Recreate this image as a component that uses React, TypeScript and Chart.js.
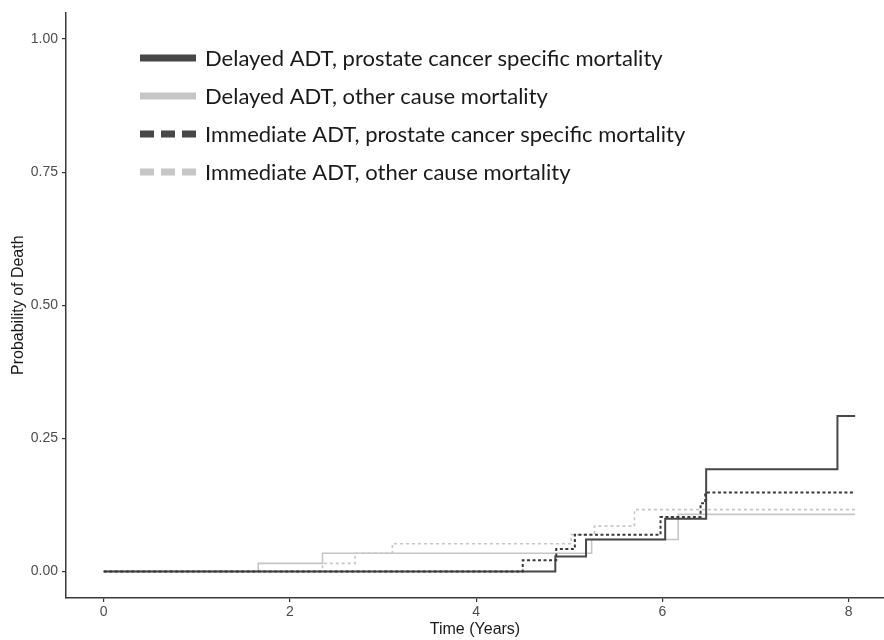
import React, { useEffect, useRef } from "react";
import { Chart, registerables } from "chart.js";

Chart.register(...registerables);

// ---- data ----
const seriesLabels = [
  "Delayed ADT, prostate cancer specific mortality",
  "Delayed ADT, other cause mortality",
  "Immediate ADT, prostate cancer specific mortality",
  "Immediate ADT, other cause mortality",
];

const delayedPcsmTime = [0, 4.85, 5.18, 6.03, 6.47, 7.88, 8.07];
const delayedPcsmProb = [0, 0.028, 0.06, 0.099, 0.192, 0.292, 0.292];

const delayedOcmTime = [0, 1.66, 2.35, 5.24, 6.17, 8.07];
const delayedOcmProb = [0, 0.015, 0.034, 0.06, 0.107, 0.107];

const immediatePcsmTime = [0, 4.5, 4.86, 5.06, 5.98, 6.41, 6.46, 8.07];
const immediatePcsmProb = [0, 0.021, 0.042, 0.069, 0.102, 0.128, 0.148, 0.148];

const immediateOcmTime = [0, 2.35, 2.7, 3.1, 5.02, 5.27, 5.7, 8.07];
const immediateOcmProb = [0, 0.015, 0.034, 0.052, 0.069, 0.085, 0.116, 0.116];

const xTickValues = [0, 2, 4, 6, 8];
const yTickValues = [0, 0.25, 0.5, 0.75, 1.0];

const xTitle = "Time (Years)";
const yTitle = "Probability of Death";

// ---- styles ----
const DARK = "#474747";
const LIGHT = "#c6c6c6";
const AXIS_FONT = "'Liberation Sans', Arial, sans-serif";

const toPoints = (t: number[], p: number[]) => t.map((x, i) => ({ x, y: p[i] }));

const legendPlugin = {
  id: "insideLegend",
  afterDraw(chart: any) {
    const ctx = chart.ctx;
    const ds = chart.data.datasets;
    const x0 = 140;
    const x1 = 196;
    const rowY = [58, 96, 134, 172];
    ctx.save();
    ds.forEach((d: any, i: number) => {
      const y = rowY[i];
      ctx.beginPath();
      ctx.strokeStyle = d.legendColor;
      ctx.lineWidth = 7;
      ctx.lineCap = "butt";
      ctx.setLineDash(d.legendDash);
      ctx.moveTo(x0, y);
      ctx.lineTo(x1, y);
      ctx.stroke();
      ctx.setLineDash([]);
      ctx.fillStyle = "#1a1a1a";
      ctx.font = "22px Lato, 'Open Sans', sans-serif";
      ctx.textAlign = "left";
      ctx.textBaseline = "middle";
      ctx.fillText(d.label, 205, y + 1);
    });
    ctx.restore();
  },
};

export default function App() {
  const ref = useRef<HTMLCanvasElement | null>(null);

  useEffect(() => {
    if (!ref.current) return;
    const chart = new Chart(ref.current, {
      type: "line",
      data: {
        datasets: [
          {
            label: seriesLabels[0],
            data: toPoints(delayedPcsmTime, delayedPcsmProb),
            borderColor: DARK,
            borderWidth: 2,
            stepped: "before",
            pointRadius: 0,
            order: 1,
            legendColor: DARK,
            legendDash: [],
          } as any,
          {
            label: seriesLabels[1],
            data: toPoints(delayedOcmTime, delayedOcmProb),
            borderColor: LIGHT,
            borderWidth: 1.6,
            stepped: "before",
            pointRadius: 0,
            order: 3,
            legendColor: LIGHT,
            legendDash: [],
          } as any,
          {
            label: seriesLabels[2],
            data: toPoints(immediatePcsmTime, immediatePcsmProb),
            borderColor: "#3a3a3a",
            borderWidth: 2,
            borderDash: [3, 2.5],
            stepped: "before",
            pointRadius: 0,
            order: 0,
            legendColor: DARK,
            legendDash: [14, 7],
          } as any,
          {
            label: seriesLabels[3],
            data: toPoints(immediateOcmTime, immediateOcmProb),
            borderColor: LIGHT,
            borderWidth: 1.6,
            borderDash: [3, 3],
            stepped: "before",
            pointRadius: 0,
            order: 2,
            legendColor: LIGHT,
            legendDash: [14, 7],
          } as any,
        ],
      },
      options: {
        animation: false,
        responsive: false,
        maintainAspectRatio: false,
        layout: { padding: { top: 11, right: 0, left: 0, bottom: 0 } },
        plugins: {
          legend: { display: false },
          tooltip: { enabled: false },
        },
        scales: {
          x: {
            type: "linear",
            min: -0.405,
            max: 8.38,
            afterFit: (s: any) => {
              s.height = 42;
            },
            afterBuildTicks: (s: any) => {
              s.ticks = xTickValues.map((v) => ({ value: v }));
            },
            grid: {
              drawOnChartArea: false,
              drawTicks: true,
              tickLength: 4,
              color: "#333",
              lineWidth: 1.2,
            },
            border: { display: true, color: "#3a3a3a", width: 1.5 },
            ticks: {
              color: "#4d4d4d",
              padding: 2,
              maxRotation: 0,
              font: { family: AXIS_FONT, size: 14 },
              callback: (v: any) => String(v),
            },
            title: {
              display: true,
              text: xTitle,
              color: "#1a1a1a",
              font: { family: AXIS_FONT, size: 16 },
              padding: { top: 0, bottom: 1 },
            },
          },
          y: {
            type: "linear",
            min: -0.05,
            max: 1.05,
            afterFit: (s: any) => {
              s.width = 66;
            },
            afterBuildTicks: (s: any) => {
              s.ticks = yTickValues.map((v) => ({ value: v }));
            },
            grid: {
              drawOnChartArea: false,
              drawTicks: true,
              tickLength: 4,
              color: "#333",
              lineWidth: 1.2,
            },
            border: { display: true, color: "#3a3a3a", width: 1.5 },
            ticks: {
              color: "#4d4d4d",
              padding: 4,
              font: { family: AXIS_FONT, size: 14 },
              callback: (v: any) => Number(v).toFixed(2),
            },
            title: {
              display: true,
              text: yTitle,
              color: "#1a1a1a",
              font: { family: AXIS_FONT, size: 16 },
              padding: { top: 9, bottom: 0 },
            },
          },
        },
      },
      plugins: [legendPlugin],
    });
    return () => chart.destroy();
  }, []);

  return (
    <div style={{ position: "absolute", left: 0, top: 0, width: 884, height: 640, background: "#fff" }}>
      <canvas ref={ref} width={884} height={640} style={{ width: 884, height: 640 }} />
    </div>
  );
}
